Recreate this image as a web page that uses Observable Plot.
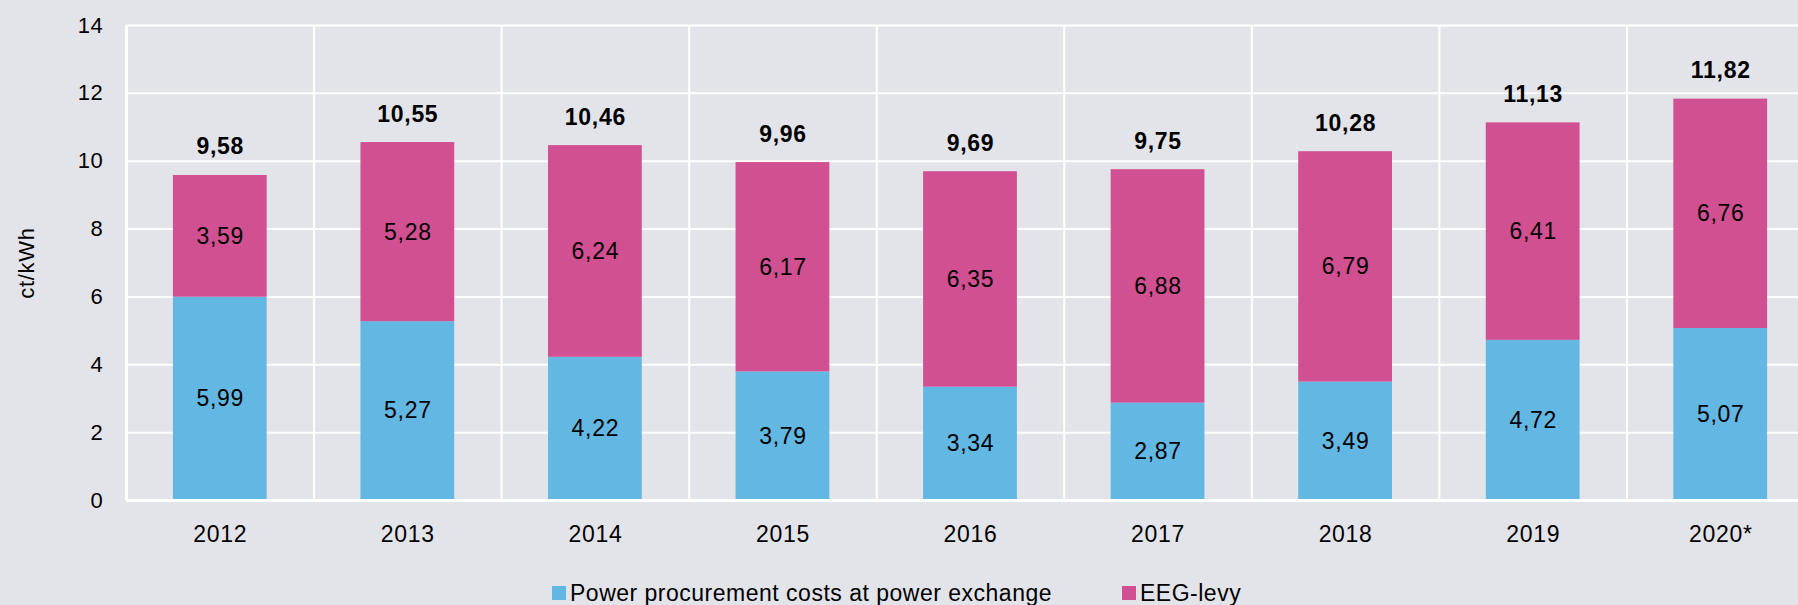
<!DOCTYPE html>
<html>
<head>
<meta charset="utf-8">
<script src="https://cdn.jsdelivr.net/npm/d3@7"></script>
<script src="https://cdn.jsdelivr.net/npm/@observablehq/plot@0.6"></script>
<style>
  html, body { margin: 0; padding: 0; background: #e3e4e9; overflow: hidden; width: 1798px; height: 605px; }
  #chart { position: absolute; left: 0; top: 0; }
  #legend { position: absolute; top: 580px; left: 552px; display: flex; align-items: center;
            font-family: "Liberation Sans", Arial, sans-serif; font-size: 23px; line-height: 26px; color: #000; letter-spacing: 0.5px; }
  .item { display: flex; align-items: center; }
  .sw { width: 14px; height: 14px; margin-right: 4px; }
</style>
</head>
<body>
<div id="chart"></div>
<div id="legend"></div>
<script>
const years = ["2012", "2013", "2014", "2015", "2016", "2017", "2018", "2019", "2020*"];
const procurement = [5.99, 5.27, 4.22, 3.79, 3.34, 2.87, 3.49, 4.72, 5.07];
const eeg = [3.59, 5.28, 6.24, 6.17, 6.35, 6.88, 6.79, 6.41, 6.76];
const totals = [9.58, 10.55, 10.46, 9.96, 9.69, 9.75, 10.28, 11.13, 11.82];
const seriesNames = ["Power procurement costs at power exchange", "EEG-levy"];
const seriesColors = ["#63b7e3", "#d05091"];
const yTicks = [0, 2, 4, 6, 8, 10, 12, 14];

const data = years.flatMap((year, i) => [
  {year, series: seriesNames[0], value: procurement[i]},
  {year, series: seriesNames[1], value: eeg[i]}
]);

const fmt = v => v.toFixed(2).replace(".", ",");

const W = 1814, ML = 126, MR = 0;
const step = (W - ML - MR) / years.length;

const chart = Plot.plot({
  width: W,
  height: 565,
  marginTop: 25,
  marginBottom: 65,
  marginLeft: ML,
  marginRight: MR,
  style: "background:transparent;max-width:none;font-family:'Liberation Sans',Arial,sans-serif;font-size:23px;letter-spacing:0.7px;color:#000;overflow:visible;",
  x: {domain: years, paddingInner: 0.5, paddingOuter: 0.25, round: false},
  y: {domain: [0, 14]},
  color: {domain: seriesNames, range: seriesColors},
  marks: [
    Plot.ruleY(yTicks, {stroke: "white", strokeWidth: 2}),
    Plot.ruleX(years, {x: d => d, dx: -step / 2, y1: 0, y2: 14, stroke: "white", strokeWidth: 2}),
    Plot.barY(data, {x: "year", y: "value", fill: "series"}),
    Plot.ruleY([0], {stroke: "white", strokeWidth: 3}),
    Plot.ruleX([years[0]], {x: d => d, dx: -step / 2, y1: 0, y2: 14, stroke: "white", strokeWidth: 3}),
    Plot.text(data, Plot.stackY({x: "year", y: "value", text: d => fmt(d.value), fill: "#000", fontSize: 23})),
    Plot.text(years, {x: d => d, y: (d, i) => totals[i], text: (d, i) => fmt(totals[i]),
      fontWeight: "bold", fontSize: 23, lineAnchor: "bottom", dy: -21, fill: "#000"}),
    Plot.axisX({tickSize: 0, tickPadding: 25, fontSize: 23, label: null}),
    Plot.axisY(yTicks, {tickSize: 0, tickPadding: 23, fontSize: 22, label: "ct/kWh",
      labelAnchor: "center", labelOffset: 108, labelArrow: "none"})
  ]
});
document.getElementById("chart").appendChild(chart);

const legend = document.getElementById("legend");
seriesNames.forEach((name, i) => {
  const item = document.createElement("div");
  item.className = "item";
  if (i > 0) item.style.marginLeft = "70px";
  const sw = document.createElement("div");
  sw.className = "sw";
  sw.style.background = seriesColors[i];
  const t = document.createElement("span");
  t.textContent = name;
  item.appendChild(sw);
  item.appendChild(t);
  legend.appendChild(item);
});
</script>
</body>
</html>
